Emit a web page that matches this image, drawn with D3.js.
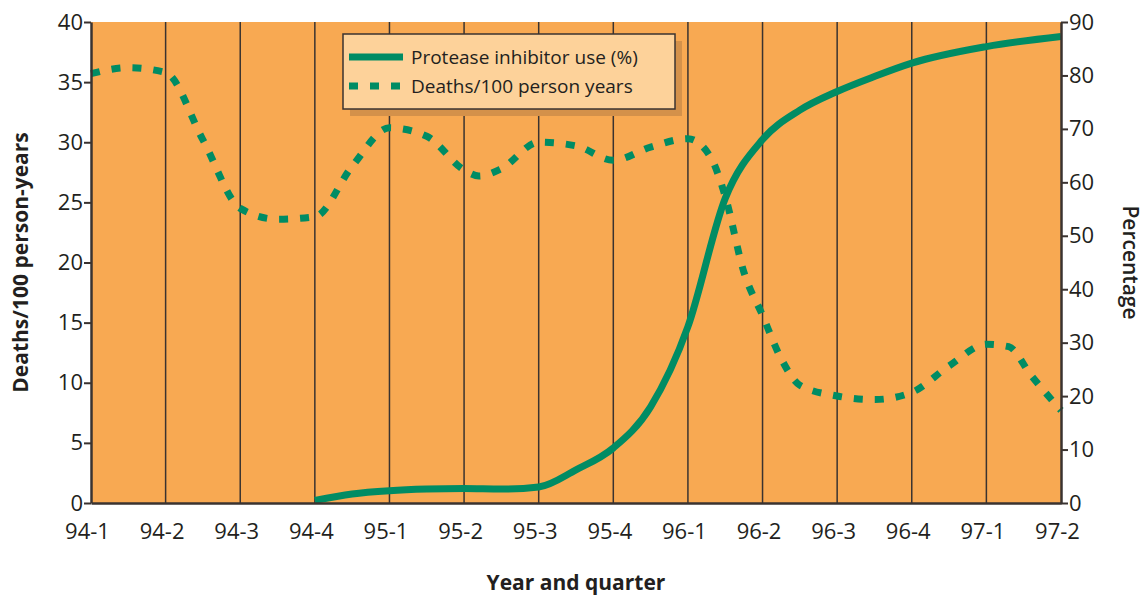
<!DOCTYPE html>
<html>
<head>
<meta charset="utf-8">
<script src="https://cdn.jsdelivr.net/npm/d3@7"></script>
<style>
  body { margin: 0; background: #fff; }
  text { font-family: "Open Sans", sans-serif; fill: #231f20; }
</style>
</head>
<body>
<svg id="chart"></svg>
<script>
// Categories along the x axis
const quarters = ["94-1", "94-2", "94-3", "94-4", "95-1", "95-2", "95-3", "95-4",
                  "96-1", "96-2", "96-3", "96-4", "97-1", "97-2"];
const leftTicks = [0, 5, 10, 15, 20, 25, 30, 35, 40];
const rightTicks = [0, 10, 20, 30, 40, 50, 60, 70, 80, 90];

// Deaths/100 person years (position in quarters, value)
const deathsPos = [0, 0.5, 1, 1.5, 2, 2.5, 3, 3.5, 4, 4.5, 5, 5.2, 5.5, 6, 6.5, 7, 7.5,
                   8, 8.3, 8.5, 8.75, 9, 9.25, 9.5, 10, 10.5, 11, 11.5, 12, 12.3, 12.6, 13];
const deathsVal = [35.7, 36.2, 35.8, 30.2, 24.5, 23.6, 23.8, 28.0, 31.2, 30.5, 27.7, 27.2, 27.8,
                   30.0, 29.7, 28.5, 29.6, 30.3, 28.8, 25.5, 19.2, 15.6, 12.0, 9.8, 8.9, 8.6,
                   9.2, 11.4, 13.2, 13.0, 10.6, 7.7];

// Protease inhibitor use (%)
const piPos = [3, 3.5, 4, 4.5, 5, 5.5, 6, 6.5, 7, 7.5, 8, 8.5, 9, 9.5, 10, 10.5, 11, 12, 13];
const piVal = [0.5, 1.7, 2.3, 2.6, 2.7, 2.6, 3.0, 6.2, 10.3, 18, 33, 57, 68, 73.5, 77, 79.8,
               82.3, 85.4, 87.3];

const width = 1147;
const height = 598;
const margin = { top: 22, right: 86, bottom: 95, left: 91 };

const svg = d3.select("#chart")
    .attr("width", width)
    .attr("height", height);

const x = d3.scaleLinear()
    .domain([0, quarters.length - 1])
    .range([margin.left, width - margin.right]);

const yLeft = d3.scaleLinear()
    .domain([0, 40])
    .range([height - margin.bottom, margin.top]);

const yRight = d3.scaleLinear()
    .domain([0, 90])
    .range([height - margin.bottom, margin.top]);

// Plot background
svg.append("rect")
    .attr("x", x(0))
    .attr("y", yLeft(40))
    .attr("width", x(quarters.length - 1) - x(0))
    .attr("height", yLeft(0) - yLeft(40))
    .attr("fill", "#f8a952");

// Vertical grid lines at each quarter
svg.append("g")
    .selectAll("line")
    .data(quarters.slice(1, -1))
    .enter().append("line")
    .attr("x1", (d, i) => x(i + 1))
    .attr("x2", (d, i) => x(i + 1))
    .attr("y1", yLeft(40))
    .attr("y2", yLeft(0))
    .attr("stroke", "#3a3330")
    .attr("stroke-width", 1.5);

// Lines
const lineL = d3.line()
    .x((d, i) => x(deathsPos[i]))
    .y(d => yLeft(d))
    .curve(d3.curveMonotoneX);

const lineR = d3.line()
    .x((d, i) => x(piPos[i]))
    .y(d => yRight(d))
    .curve(d3.curveMonotoneX);

svg.append("path")
    .datum(piVal)
    .attr("d", lineR)
    .attr("fill", "none")
    .attr("stroke", "#008c64")
    .attr("stroke-width", 7);

svg.append("path")
    .datum(deathsVal)
    .attr("d", lineL)
    .attr("fill", "none")
    .attr("stroke", "#008c64")
    .attr("stroke-width", 7)
    .attr("stroke-dasharray", "9,12");

// Axes
const leftAxis = svg.append("g")
    .attr("transform", `translate(${x(0)},0)`)
    .call(d3.axisLeft(yLeft).tickValues(leftTicks).tickSize(7).tickSizeOuter(0).tickPadding(1));

const rightAxis = svg.append("g")
    .attr("transform", `translate(${x(quarters.length - 1)},0)`)
    .call(d3.axisRight(yRight).tickValues(rightTicks).tickSize(7).tickSizeOuter(0).tickPadding(1));

const bottomAxis = svg.append("g")
    .attr("transform", `translate(0,${yLeft(0)})`)
    .call(d3.axisBottom(x).tickValues(d3.range(quarters.length))
        .tickFormat(i => quarters[i]).tickSize(0).tickPadding(20));

[leftAxis, rightAxis, bottomAxis].forEach(g => {
    g.select(".domain").attr("stroke", "#3a3330").attr("stroke-width", 2.5);
    g.selectAll(".tick line").attr("stroke", "#3a3330").attr("stroke-width", 2);
    g.selectAll("text")
        .style("font-family", "'Open Sans', sans-serif")
        .style("font-size", "22px")
        .attr("fill", "#231f20");
});
bottomAxis.selectAll("text").attr("dx", -4);

// Axis titles
svg.append("text")
    .attr("transform", `translate(28,${(yLeft(0) + yLeft(40)) / 2}) rotate(-90)`)
    .attr("text-anchor", "middle")
    .style("font-size", "21px")
    .style("font-weight", "bold")
    .text("Deaths/100 person-years");

svg.append("text")
    .attr("transform", `translate(1123,${(yLeft(0) + yLeft(40)) / 2}) rotate(90)`)
    .attr("text-anchor", "middle")
    .style("font-size", "21px")
    .style("font-weight", "600")
    .text("Percentage");

svg.append("text")
    .attr("x", (x(0) + x(quarters.length - 1)) / 2)
    .attr("y", 590)
    .attr("text-anchor", "middle")
    .style("font-size", "21px")
    .style("font-weight", "bold")
    .text("Year and quarter");

// Legend box with shadow
const legend = svg.append("g")
    .attr("transform", "translate(343,34)");

legend.append("rect")
    .attr("x", 7)
    .attr("y", 7)
    .attr("width", 332)
    .attr("height", 75)
    .attr("fill", "#d4914a");

legend.append("rect")
    .attr("width", 332)
    .attr("height", 75)
    .attr("fill", "#fdd29a")
    .attr("stroke", "#3a3330")
    .attr("stroke-width", 1.5);

const legendItems = [
    { label: "Protease inhibitor use (%)", dash: null },
    { label: "Deaths/100 person years", dash: "9,12" }
];

legendItems.forEach((d, i) => {
    const yy = 23 + i * 29;
    legend.append("line")
        .attr("x1", 6)
        .attr("x2", 60)
        .attr("y1", yy)
        .attr("y2", yy)
        .attr("stroke", "#008c64")
        .attr("stroke-width", 7)
        .attr("stroke-dasharray", d.dash);
    legend.append("text")
        .attr("x", 68)
        .attr("y", yy)
        .attr("dy", "0.35em")
        .style("font-size", "19px")
        .text(d.label);
});
</script>
</body>
</html>
